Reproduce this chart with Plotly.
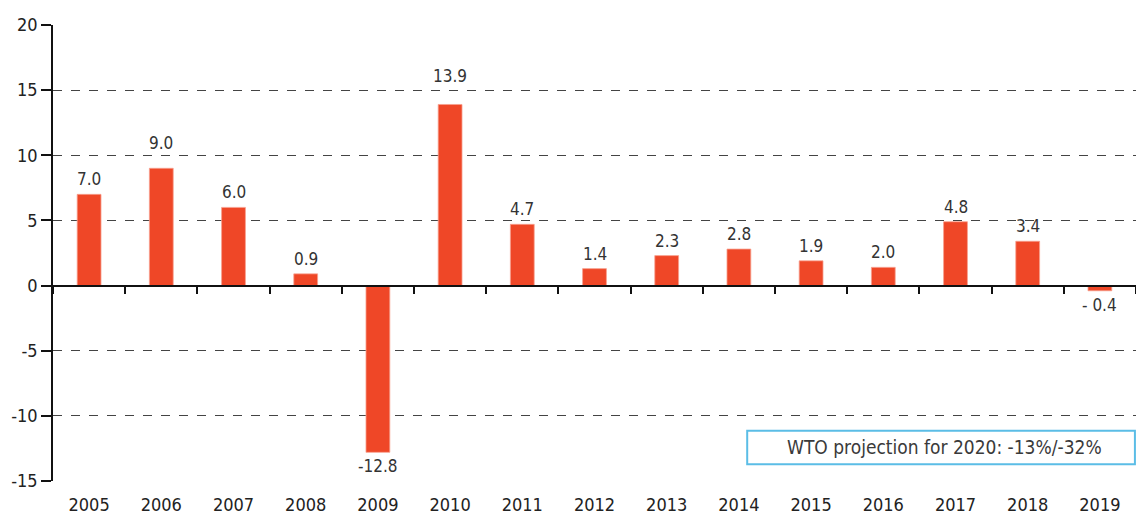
import plotly.graph_objects as go

years = ["2005", "2006", "2007", "2008", "2009", "2010", "2011", "2012",
         "2013", "2014", "2015", "2016", "2017", "2018", "2019"]
values = [7.0, 9.0, 6.0, 0.9, -12.8, 13.9, 4.7, 1.3, 2.3, 2.8, 1.9, 1.4, 4.9, 3.4, -0.4]
labels = ["7.0", "9.0", "6.0", "0.9", "-12.8", "13.9", "4.7", "1.4", "2.3", "2.8",
          "1.9", "2.0", "4.8", "3.4", "- 0.4"]
y_ticks = [-15, -10, -5, 0, 5, 10, 15, 20]
note = "WTO projection for 2020: -13%/-32%"

FONT = "DejaVu Sans Condensed, Roboto, sans-serif"
BAR = "#EF4727"
label_nudge = {"2006": 10, "2010": 13}

fig = go.Figure()
fig.add_trace(go.Bar(
    x=years, y=values,
    marker=dict(color=BAR, line=dict(color="#F7A08E", width=0.8)),
    width=0.33, hoverinfo="skip",
))
# invisible trace to carry the zero-line axis with boundary ticks
fig.add_trace(go.Scatter(x=years, y=[0] * len(years), xaxis="x2", mode="none",
                         showlegend=False, hoverinfo="skip"))

for i, (yr, v, lab) in enumerate(zip(years, values, labels)):
    up = v >= 0
    fig.add_annotation(
        x=i, y=v, text=lab, showarrow=False,
        xanchor="center", yanchor="middle",
        yshift=(15 + label_nudge.get(yr, 0)) if up else -14,
        font=dict(family=FONT, size=17, color="#333333"),
    )

zero_pos = (0 - y_ticks[0]) / (y_ticks[-1] - y_ticks[0])
xr = [-0.5, len(years) - 0.5]

fig.update_layout(
    width=1136, height=515,
    margin=dict(l=53, r=0, t=25, b=34),
    paper_bgcolor="white", plot_bgcolor="white",
    showlegend=False,
    xaxis=dict(
        type="category", categoryorder="array", categoryarray=years,
        range=xr, autorange=False,
        showgrid=False, showline=False, zeroline=False, ticks="",
        tickfont=dict(family=FONT, size=18, color="#222222"),
        ticklabelstandoff=11, automargin=False,
    ),
    xaxis2=dict(
        type="category", categoryorder="array", categoryarray=years,
        range=xr, autorange=False,
        overlaying="x", anchor="free", position=zero_pos,
        tickson="boundaries", ticks="outside", ticklen=8, tickwidth=1.5,
        tickcolor="#111111", showticklabels=False, showgrid=False,
        showline=True, linecolor="#111111", linewidth=1.5, zeroline=False,
        automargin=False,
    ),
    yaxis=dict(
        range=[y_ticks[0], y_ticks[-1]], autorange=False, tickvals=y_ticks,
        ticktext=[str(v) for v in y_ticks],
        showgrid=True, gridcolor="#444444", griddash="dash", gridwidth=1,
        zeroline=False,
        showline=True, linecolor="#111111", linewidth=1.5,
        ticks="outside", ticklen=10, tickwidth=1.5, tickcolor="#111111",
        tickfont=dict(family=FONT, size=18, color="#222222"),
        automargin=False,
    ),
)

fig.add_shape(type="rect", xref="paper", yref="paper",
              x0=0.641, x1=0.999, y0=0.037, y1=0.11,
              line=dict(color="#5BBDE6", width=2), fillcolor="white", layer="above")
fig.add_annotation(xref="paper", yref="paper", x=0.8236, y=0.0735,
                   xanchor="center", yanchor="middle",
                   text=note, showarrow=False,
                   font=dict(family=FONT, size=19, color="#3a3a3a"))

fig.write_html("out.html", config={"displayModeBar": False},
               post_script="document.body.style.margin='0';")
